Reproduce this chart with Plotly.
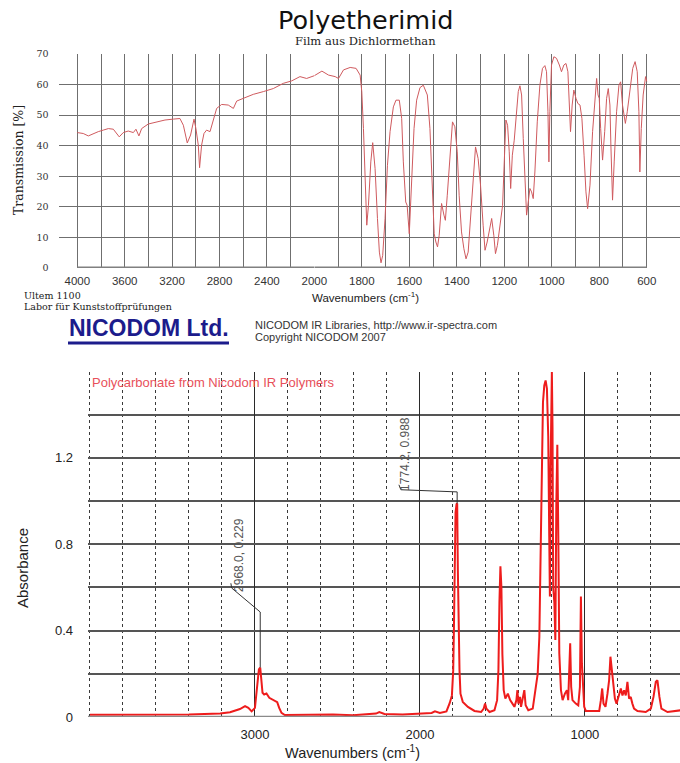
import numpy as np
import plotly.graph_objects as go

# ---------------- data: Polyetherimid (transmission %) ----------------
PEI_WAVENUMBER = [
    4000, 3950, 3907, 3865, 3823, 3781, 3738, 3696, 3646, 3612, 3570, 3527, 3505, 3480, 3457,
    3401, 3331, 3260, 3190, 3134, 3105, 3072, 3044, 3015, 2999, 2979, 2968, 2951, 2931, 2909,
    2880, 2852, 2824, 2782, 2726, 2683, 2655, 2599, 2515, 2430, 2346, 2262, 2191, 2121, 2065,
    2000, 1968, 1940, 1912, 1898, 1877, 1849, 1824, 1807, 1800, 1793, 1786, 1779, 1772, 1762,
    1754, 1744, 1734, 1726, 1719, 1712, 1702, 1692, 1681, 1667, 1656, 1642, 1632, 1625, 1615,
    1609, 1600, 1590, 1580, 1569, 1555, 1541, 1524, 1513, 1502, 1495, 1488, 1481, 1474, 1464,
    1454, 1448, 1440, 1429, 1418, 1408, 1398, 1390, 1380, 1370, 1361, 1352, 1342, 1331, 1321,
    1310, 1300, 1289, 1281, 1272, 1260, 1253, 1244, 1237, 1229, 1218, 1207, 1200, 1193, 1186,
    1179, 1173, 1166, 1158, 1148, 1141, 1134, 1127, 1120, 1113, 1106, 1099, 1092, 1085, 1078,
    1071, 1061, 1050, 1039, 1029, 1022, 1016, 1012, 1008, 1001, 991, 980, 968, 959, 949,
    940, 932, 926, 921, 914, 907, 898, 890, 881, 873, 864, 856, 849, 839, 828,
    818, 811, 805, 800, 794, 786, 777, 769, 762, 755, 751, 744, 737, 727, 717,
    710, 702, 696, 690, 682, 671, 659, 649, 640, 633, 629, 623, 615, 605, 600]
PEI_TRANSMISSION = [
    44.3, 44.0, 43.2, 44.0, 44.6, 45.1, 45.6, 45.4, 42.9, 44.3, 44.8, 44.3, 45.4, 43.2, 45.6,
    47.1, 47.8, 48.4, 48.7, 48.9, 46.7, 40.9, 43.5, 48.7, 45.6, 40.2, 32.8, 40.2, 44.0, 45.1,
    44.6, 48.4, 52.2, 53.5, 53.3, 52.2, 54.6, 55.5, 56.8, 57.7, 58.7, 60.4, 61.2, 62.6, 62.0,
    62.9, 64.4, 63.1, 62.6, 62.0, 64.8, 65.6, 65.3, 63.1, 57.7, 45.6, 27.1, 14.0, 20.5, 34.7,
    41.0, 32.5, 16.2, 5.2, 1.7, 4.1, 16.2, 33.6, 44.6, 52.7, 54.9, 54.9, 48.9, 34.7, 21.6,
    20.5, 11.2, 27.1, 45.6, 54.9, 59.0, 59.8, 56.6, 45.6, 23.8, 11.2, 8.5, 6.9, 10.7, 21.1,
    17.3, 15.6, 23.8, 36.9, 47.8, 46.2, 38.0, 23.8, 11.8, 6.3, 3.0, 5.2, 16.2, 31.4, 39.6,
    35.8, 27.1, 14.0, 5.8, 8.5, 14.0, 16.2, 10.7, 4.7, 7.4, 14.0, 20.5, 34.7, 48.4, 46.7,
    38.0, 26.0, 36.9, 41.8, 51.1, 57.7, 59.6, 56.6, 42.4, 27.1, 17.3, 21.6, 26.0, 24.9, 22.7,
    31.4, 47.8, 59.8, 65.3, 66.2, 64.2, 51.1, 34.7, 51.1, 66.4, 69.1, 68.6, 66.4, 64.2, 66.4,
    66.9, 64.2, 55.5, 44.6, 53.3, 58.2, 55.5, 53.8, 53.3, 48.9, 36.9, 24.9, 19.4, 27.1, 44.6,
    55.5, 62.0, 56.6, 55.5, 45.6, 35.3, 44.6, 55.5, 58.7, 53.3, 40.2, 22.2, 34.7, 51.1, 59.8,
    60.9, 53.3, 50.0, 47.3, 51.1, 58.7, 65.3, 67.5, 64.2, 51.1, 31.4, 45.6, 56.6, 62.6, 61.0]

PEI_LABELED_HIGH = [4000, 3600, 3200, 2800, 2400, 2000]
PEI_GRID_HIGH = [3800, 3400, 3000, 2600, 2200]
PEI_LABELED_LOW = [1800, 1600, 1400, 1200, 1000, 800, 600]
PEI_GRID_LOW = [2000, 1900, 1700, 1500, 1300, 1100, 900, 700]
PEI_YTICKS = [0, 10, 20, 30, 40, 50, 60, 70]

# ---------------- data: Polycarbonate (absorbance) ----------------
PC_WAVENUMBER = [
    4000, 3800, 3600, 3533, 3400, 3211, 3151, 3091, 3060, 3040, 3020, 3000, 2986, 2976, 2968,
    2962, 2954, 2944, 2930, 2913, 2897, 2879, 2865, 2853, 2839, 2819, 2608, 2527, 2406, 2266,
    2246, 2215, 2105, 2010, 1929, 1909, 1879, 1839, 1819, 1806, 1798, 1794, 1790, 1784, 1778,
    1774, 1770, 1766, 1760, 1754, 1740, 1709, 1669, 1629, 1613, 1605, 1597, 1578, 1548, 1532,
    1524, 1518, 1512, 1506, 1500, 1492, 1482, 1467, 1453, 1439, 1427, 1415, 1409, 1403, 1393,
    1387, 1375, 1367, 1359, 1343, 1316, 1300, 1286, 1276, 1270, 1262, 1254, 1246, 1238, 1230,
    1222, 1216, 1212, 1208, 1204, 1200, 1196, 1192, 1185, 1179, 1173, 1167, 1161, 1155, 1145,
    1135, 1121, 1109, 1101, 1093, 1089, 1083, 1075, 1055, 1040, 1030, 1024, 1018, 1010, 1004,
    994, 913, 903, 895, 887, 875, 863, 853, 845, 836, 826, 818, 808, 792, 782,
    772, 762, 752, 742, 732, 722, 712, 702, 681, 631, 600, 584, 570, 560, 548,
    536, 499, 459, 420]
PC_ABSORBANCE = [
    0.010, 0.010, 0.011, 0.013, 0.011, 0.016, 0.022, 0.037, 0.050, 0.042, 0.026, 0.042, 0.143, 0.221, 0.229,
    0.190, 0.112, 0.104, 0.109, 0.089, 0.081, 0.073, 0.069, 0.042, 0.019, 0.009, 0.009, 0.012, 0.008, 0.016,
    0.023, 0.014, 0.011, 0.014, 0.019, 0.026, 0.019, 0.026, 0.065, 0.100, 0.217, 0.400, 0.680, 0.946, 0.985,
    0.988, 0.680, 0.370, 0.217, 0.108, 0.070, 0.047, 0.028, 0.023, 0.039, 0.062, 0.039, 0.023, 0.031, 0.078,
    0.217, 0.530, 0.698, 0.600, 0.290, 0.124, 0.085, 0.108, 0.078, 0.062, 0.047, 0.078, 0.124, 0.062, 0.093,
    0.047, 0.085, 0.124, 0.054, 0.031, 0.039, 0.140, 0.200, 0.370, 0.680, 1.147, 1.457, 1.535, 1.558, 1.520,
    1.300, 0.837, 0.558, 1.147, 1.580, 1.597, 1.333, 0.600, 0.530, 0.357, 0.990, 1.260, 0.837, 0.295, 0.124,
    0.078, 0.108, 0.124, 0.078, 0.248, 0.341, 0.140, 0.078, 0.062, 0.054, 0.140, 0.558, 0.248, 0.124, 0.047,
    0.028, 0.028, 0.078, 0.132, 0.062, 0.047, 0.108, 0.170, 0.279, 0.217, 0.155, 0.085, 0.062, 0.108, 0.132,
    0.100, 0.124, 0.100, 0.163, 0.085, 0.093, 0.062, 0.039, 0.028, 0.023, 0.039, 0.093, 0.163, 0.170, 0.093,
    0.039, 0.023, 0.028, 0.031]
PC_PEAK_WN = [2968.0, 1774.2]
PC_PEAK_ABS = [0.229, 0.988]
PC_XTICKS = [3000, 2000, 1000]
PC_YTICKS = [0, 0.4, 0.8, 1.2]
PC_YLABELS = ["0", "0.4", "0.8", "1.2"]

# ---------------- layout helpers ----------------
W, H = 680, 763
def px(x):
    return x / W
def py(y):
    return 1 - y / H

SANS = "Liberation Sans, Arial, sans-serif"
WIDE_SANS = "DejaVu Sans, Liberation Sans, sans-serif"
SERIF = "DejaVu Serif, Liberation Serif, serif"

fig = go.Figure()

wn = np.array(PEI_WAVENUMBER, dtype=float)
tr = np.array(PEI_TRANSMISSION, dtype=float)
hi = wn >= 2000
lo = wn <= 2000
pei_line = dict(color="#cf5a5e", width=1)
fig.add_trace(go.Scatter(x=wn[hi], y=tr[hi], xaxis="x", yaxis="y", mode="lines",
                         line=pei_line, showlegend=False, hoverinfo="skip"))
fig.add_trace(go.Scatter(x=wn[lo], y=tr[lo], xaxis="x2", yaxis="y", mode="lines",
                         line=pei_line, showlegend=False, hoverinfo="skip"))
fig.add_trace(go.Scatter(x=PC_WAVENUMBER, y=PC_ABSORBANCE, xaxis="x3", yaxis="y3", mode="lines",
                         line=dict(color="#ee1c1c", width=2), showlegend=False, hoverinfo="skip"))

grid_top = "#6f6f6f"
top_tick_font = dict(family=SANS, size=11.5, color="#333333")
top_grid = dict(showgrid=True, gridcolor=grid_top, gridwidth=1.3)

fig.update_layout(
    width=W, height=H,
    margin=dict(l=0, r=0, t=0, b=0, pad=0, autoexpand=False),
    paper_bgcolor="white", plot_bgcolor="white",
    xaxis=dict(domain=[px(58.5), px(314.3)], range=[4158.6, 2000], anchor="y", automargin=False,
               tickmode="array", tickvals=PEI_LABELED_HIGH, **top_grid,
               minor=dict(tickmode="array", tickvals=PEI_GRID_HIGH, ticks="", **top_grid),
               zeroline=False, showline=False, ticks="", tickfont=top_tick_font, ticklabelstandoff=4),
    xaxis2=dict(domain=[px(314.3), 1.0], range=[2000, 459.9], anchor="y", automargin=False,
                tickmode="array", tickvals=PEI_LABELED_LOW, **top_grid,
                minor=dict(tickmode="array", tickvals=PEI_GRID_LOW, ticks="", **top_grid),
                zeroline=False, showline=False, ticks="", tickfont=top_tick_font, ticklabelstandoff=4),
    yaxis=dict(domain=[py(268), py(54)], range=[0, 70], anchor="x", automargin=False,
               tickmode="array", tickvals=PEI_YTICKS, **top_grid,
               zeroline=False, showline=False, ticks="", ticklabelstandoff=9,
               tickfont=dict(family=SERIF, size=9.5, color="#333333")),
    xaxis3=dict(domain=[px(88), 1.0], range=[4012, 423.3], anchor="y3", automargin=False,
                tickmode="array", tickvals=PC_XTICKS,
                showgrid=True, gridcolor="#2a2a2a", gridwidth=1.2, zeroline=False,
                showline=False, ticks="", ticklabelstandoff=8,
                tickfont=dict(family=SANS, size=13, color="#222222"),
                minor=dict(tickmode="linear", tick0=0, dtick=200, showgrid=True,
                           gridcolor="#3a3a3a", gridwidth=1, griddash="3px,3px", ticks="")),
    yaxis3=dict(domain=[py(717), py(372)], range=[0, 1.597], anchor="x3", automargin=False,
                tickmode="array", tickvals=PC_YTICKS, ticktext=PC_YLABELS,
                showgrid=True, gridcolor="#555555", gridwidth=1.5, zeroline=False,
                minor=dict(tickmode="linear", tick0=0, dtick=0.2, showgrid=True,
                           gridcolor="#555555", gridwidth=1.5, ticks=""),
                showline=False, ticks="", ticklabelstandoff=14,
                tickfont=dict(family=SANS, size=13, color="#222222")),
)

shapes = []
shapes.append(dict(type="line", xref="x", yref="y", x0=4000, x1=2000, y0=0, y1=0,
                   line=dict(color="#808080", width=3)))
shapes.append(dict(type="line", xref="x2", yref="y", x0=2000, x1=600, y0=0, y1=0,
                   line=dict(color="#808080", width=3)))
shapes.append(dict(type="line", xref="x3", yref="y3", x0=4012, x1=423.3, y0=0, y1=0,
                   line=dict(color="#8a8a8a", width=2.5)))
shapes.append(dict(type="line", xref="paper", yref="paper", x0=px(68), x1=px(229),
                   y0=py(343), y1=py(343), line=dict(color="#1c1c8c", width=3)))

# peak label leaders (offsets from the peak in data units)
LEADER_OFFSETS = [
    [(0, 0), (0, 0.257), (173, 0.368), (178, 0.39)],
    [(0, 0), (0, 0.054), (341, 0.064), (353, 0.087)],
]
for (pw, pa, offs) in zip(PC_PEAK_WN, PC_PEAK_ABS, LEADER_OFFSETS):
    pts = [(pw + dx, pa + dy) for dx, dy in offs]
    path = "M " + " L ".join(f"{x},{y}" for x, y in pts)
    shapes.append(dict(type="path", xref="x3", yref="y3", path=path,
                       line=dict(color="#333333", width=1)))
fig.update_layout(shapes=shapes)

ann = []
def text(x, y, s, size, family=SANS, color="#222222", xanchor="center", yanchor="middle", angle=0):
    ann.append(dict(x=px(x), y=py(y), xref="paper", yref="paper", text=s, showarrow=False,
                    xanchor=xanchor, yanchor=yanchor, textangle=angle,
                    font=dict(family=family, size=size, color=color)))

text(365, 20, "Polyetherimid", 25.5, family=WIDE_SANS, color="#111111")
text(365, 41, "Film aus Dichlormethan", 11.5, family=SERIF, color="#222222")
text(18, 160, "Transmission [%]", 12.5, family=SERIF, angle=-90)
text(365, 297, "Wavenumbers (cm<sup>-1</sup>)", 11.5, color="#222222")
text(22, 296, "Ultem 1100", 9.5, family=SERIF, xanchor="left")
text(22, 306, "Labor für Kunststoffprüfungen", 9.5, family=SERIF, xanchor="left")
text(67, 328, "<b>NICODOM Ltd.</b>", 23, color="#1c1c8c", xanchor="left")
text(253, 325, "NICODOM IR Libraries, http://www.ir-spectra.com", 11, color="#333333", xanchor="left")
text(253, 337, "Copyright NICODOM 2007", 11, color="#333333", xanchor="left")
text(90, 382, "Polycarbonate from Nicodom IR Polymers", 13, color="#e8505a", xanchor="left")
text(22, 568, "Absorbance", 15, angle=-90)
text(352, 752, "Wavenumbers (cm<sup>-1</sup>)", 14.5)

# peak value labels
for pw, pa, (ox, oy) in zip(PC_PEAK_WN, PC_PEAK_ABS, [(130, 0.52), (316, 0.23)]):
    ann.append(dict(x=pw + ox, y=pa + oy, xref="x3", yref="y3",
                    text=f"{pw:.1f}, {pa:.3f}", showarrow=False, textangle=-90,
                    xanchor="center", yanchor="middle",
                    font=dict(family=SANS, size=12, color="#555555")))

fig.update_layout(annotations=ann)
fig.write_html(
    "out.html",
    config={"displayModeBar": False},
    post_script=("document.documentElement.style.margin='0';document.body.style.margin='0';"
                 "document.documentElement.style.overflow='hidden';document.body.style.overflow='hidden';"),
)
